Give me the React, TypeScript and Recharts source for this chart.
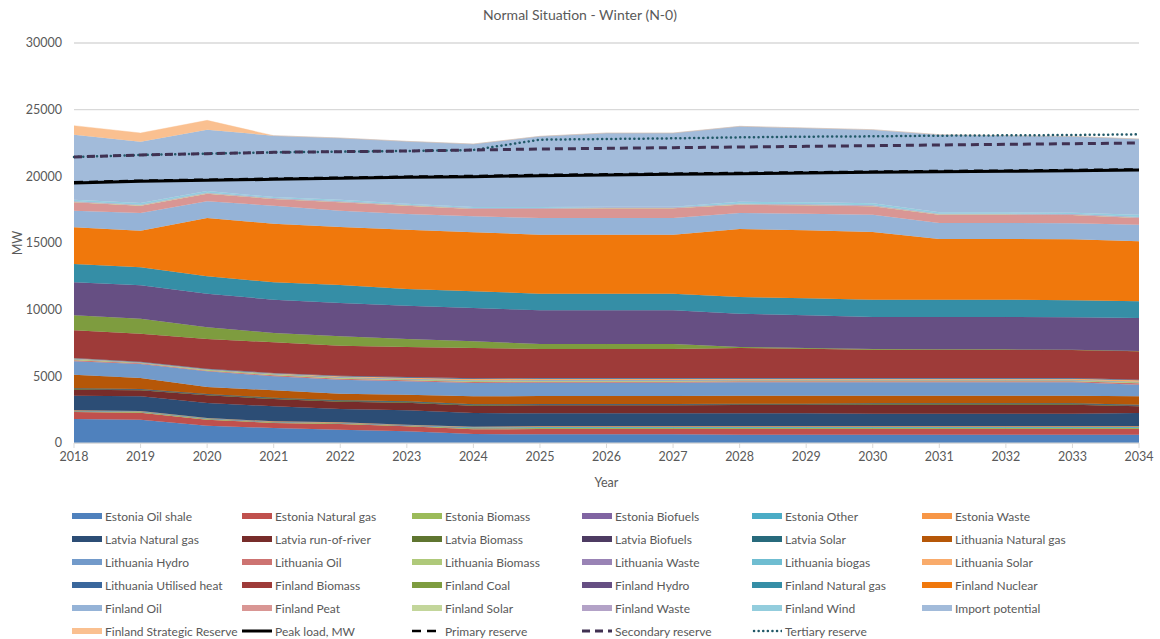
import React from 'react';
import { ComposedChart, Area, Line, XAxis, YAxis, CartesianGrid } from 'recharts';

const years = [2018, 2019, 2020, 2021, 2022, 2023, 2024, 2025, 2026, 2027, 2028, 2029, 2030, 2031, 2032, 2033, 2034];
const yTicks = [0, 5000, 10000, 15000, 20000, 25000, 30000];

// Estonia
const estoniaOilShale = [1800, 1750, 1300, 1125, 1000, 875, 675, 650, 650, 650, 625, 625, 625, 625, 625, 625, 625];
const estoniaNaturalGas = [525, 525, 450, 375, 425, 375, 350, 400, 400, 400, 425, 425, 425, 425, 425, 425, 425];
const estoniaBiomass = [50, 50, 50, 50, 50, 50, 75, 75, 75, 75, 75, 75, 75, 75, 75, 75, 75];
const estoniaBiofuels = [25, 25, 25, 25, 25, 25, 25, 25, 25, 25, 25, 25, 25, 25, 25, 25, 25];
const estoniaOther = [25, 25, 25, 25, 25, 25, 50, 50, 50, 50, 50, 50, 50, 50, 50, 50, 50];
const estoniaWaste = [25, 25, 25, 25, 25, 25, 50, 50, 50, 50, 50, 50, 50, 50, 50, 50, 50];

// Latvia
const latviaNaturalGas = [1100, 1100, 1125, 1125, 1000, 1075, 1025, 975, 975, 975, 975, 975, 950, 950, 950, 950, 1000];
const latviaRunOfRiver = [450, 450, 575, 550, 550, 575, 550, 600, 600, 600, 625, 625, 675, 675, 675, 675, 500];
const latviaBiomass = [50, 50, 50, 50, 50, 50, 50, 50, 50, 50, 50, 50, 50, 50, 50, 50, 50];
const latviaBiofuels = [25, 25, 25, 25, 25, 25, 25, 25, 25, 25, 25, 25, 25, 25, 25, 25, 25];
const latviaSolar = [25, 25, 25, 25, 25, 25, 25, 25, 25, 25, 25, 25, 25, 25, 25, 25, 50];

// Lithuania
const lithuaniaNaturalGas = [1025, 825, 525, 550, 500, 500, 600, 600, 600, 600, 600, 600, 575, 575, 575, 575, 625];
const lithuaniaHydro = [1000, 1050, 1175, 1050, 1050, 1000, 1000, 1000, 1000, 1000, 1000, 1000, 1000, 1000, 1000, 1000, 875];
const lithuaniaOil = [75, 50, 50, 75, 75, 75, 75, 75, 75, 75, 75, 75, 75, 75, 75, 75, 100];
const lithuaniaBiomass = [75, 50, 75, 75, 75, 75, 75, 75, 75, 75, 75, 75, 75, 75, 75, 75, 75];
const lithuaniaWaste = [25, 25, 25, 25, 25, 25, 25, 25, 25, 25, 25, 25, 25, 25, 25, 25, 25];
const lithuaniaBiogas = [25, 25, 25, 25, 25, 25, 25, 25, 25, 25, 25, 25, 25, 25, 25, 25, 25];
const lithuaniaSolar = [25, 0, 0, 25, 50, 75, 100, 100, 100, 100, 75, 75, 75, 75, 75, 75, 100];
const lithuaniaUtilisedHeat = [25, 25, 25, 25, 50, 50, 50, 50, 50, 50, 50, 50, 50, 50, 50, 50, 50];

// Finland
const finlandBiomass = [2075, 2100, 2225, 2300, 2250, 2250, 2275, 2175, 2175, 2175, 2250, 2200, 2125, 2125, 2125, 2100, 2125];
const finlandCoal = [1125, 1125, 875, 700, 700, 600, 500, 375, 375, 375, 75, 50, 50, 25, 25, 25, 25];
const finlandHydro = [2475, 2500, 2525, 2500, 2500, 2500, 2500, 2525, 2525, 2525, 2500, 2450, 2400, 2425, 2425, 2425, 2475];
const finlandNaturalGas = [1375, 1350, 1300, 1300, 1350, 1250, 1250, 1250, 1250, 1250, 1250, 1275, 1300, 1300, 1300, 1275, 1250];
const finlandNuclear = [2750, 2750, 4375, 4400, 4350, 4450, 4425, 4425, 4425, 4425, 5100, 5100, 5075, 4550, 4550, 4575, 4500];
const finlandOil = [1250, 1325, 1250, 1350, 1225, 1175, 1200, 1250, 1250, 1250, 1200, 1250, 1300, 1200, 1200, 1200, 1250];
const finlandPeat = [625, 550, 575, 500, 625, 625, 550, 675, 725, 725, 625, 625, 625, 625, 625, 625, 500];
const finlandSolar = [25, 25, 25, 25, 25, 25, 25, 25, 25, 25, 25, 25, 25, 25, 25, 25, 25];
const finlandWaste = [50, 50, 50, 50, 50, 50, 50, 50, 50, 50, 50, 50, 50, 50, 50, 50, 50];
const finlandWind = [125, 125, 125, 75, 125, 75, 75, 75, 50, 50, 150, 150, 150, 100, 100, 100, 175];
const importPotential = [4875, 4600, 4600, 4600, 4625, 4675, 4725, 5300, 5525, 5525, 5650, 5575, 5525, 5825, 5750, 5725, 5675];
const finlandStrategicReserve = [675, 650, 700, 0, 0, 0, 0, 0, 0, 0, 0, 0, 0, 0, 0, 0, 0];

// Load and reserve levels
const peakLoad = [19500, 19625, 19700, 19775, 19850, 19925, 19975, 20050, 20100, 20150, 20200, 20250, 20300, 20350, 20375, 20425, 20475];
const primaryReserve = [19550, 19675, 19750, 19825, 19900, 19975, 20025, 20100, 20150, 20200, 20250, 20300, 20350, 20400, 20425, 20475, 20525];
const secondaryReserve = [21450, 21600, 21700, 21800, 21850, 21900, 21975, 22050, 22100, 22150, 22200, 22250, 22300, 22350, 22400, 22450, 22500];
const tertiaryReserve = [21450, 21600, 21700, 21800, 21850, 21900, 21975, 22750, 22800, 22850, 22925, 22975, 23000, 23050, 23075, 23100, 23150];

type AreaSeries = { key: string; name: string; color: string; values: number[] };
type LineSeries = AreaSeries & { width: number; dash?: string; cap?: 'butt' | 'round' };

const areas: AreaSeries[] = [
  { key: 'eeOil', name: 'Estonia Oil shale', color: '#4F81BD', values: estoniaOilShale },
  { key: 'eeGas', name: 'Estonia Natural gas', color: '#C0504D', values: estoniaNaturalGas },
  { key: 'eeBiomass', name: 'Estonia Biomass', color: '#9BBB59', values: estoniaBiomass },
  { key: 'eeBiofuels', name: 'Estonia Biofuels', color: '#8064A2', values: estoniaBiofuels },
  { key: 'eeOther', name: 'Estonia Other', color: '#4BACC6', values: estoniaOther },
  { key: 'eeWaste', name: 'Estonia Waste', color: '#F79646', values: estoniaWaste },
  { key: 'lvGas', name: 'Latvia Natural gas', color: '#2C4D75', values: latviaNaturalGas },
  { key: 'lvRiver', name: 'Latvia run-of-river', color: '#772C2A', values: latviaRunOfRiver },
  { key: 'lvBiomass', name: 'Latvia Biomass', color: '#5F7530', values: latviaBiomass },
  { key: 'lvBiofuels', name: 'Latvia Biofuels', color: '#4D3B62', values: latviaBiofuels },
  { key: 'lvSolar', name: 'Latvia Solar', color: '#276A7C', values: latviaSolar },
  { key: 'ltGas', name: 'Lithuania Natural gas', color: '#B65708', values: lithuaniaNaturalGas },
  { key: 'ltHydro', name: 'Lithuania Hydro', color: '#729ACA', values: lithuaniaHydro },
  { key: 'ltOil', name: 'Lithuania Oil', color: '#CD7371', values: lithuaniaOil },
  { key: 'ltBiomass', name: 'Lithuania Biomass', color: '#AFC97A', values: lithuaniaBiomass },
  { key: 'ltWaste', name: 'Lithuania Waste', color: '#9983B5', values: lithuaniaWaste },
  { key: 'ltBiogas', name: 'Lithuania biogas', color: '#6FBDD1', values: lithuaniaBiogas },
  { key: 'ltSolar', name: 'Lithuania Solar', color: '#F9AB6B', values: lithuaniaSolar },
  { key: 'ltHeat', name: 'Lithuania Utilised heat', color: '#3A679C', values: lithuaniaUtilisedHeat },
  { key: 'fiBiomass', name: 'Finland Biomass', color: '#9E3B39', values: finlandBiomass },
  { key: 'fiCoal', name: 'Finland Coal', color: '#7E9C3F', values: finlandCoal },
  { key: 'fiHydro', name: 'Finland Hydro', color: '#664F83', values: finlandHydro },
  { key: 'fiGas', name: 'Finland Natural gas', color: '#358EA6', values: finlandNaturalGas },
  { key: 'fiNuclear', name: 'Finland Nuclear', color: '#F0780C', values: finlandNuclear },
  { key: 'fiOil', name: 'Finland Oil', color: '#95B3D7', values: finlandOil },
  { key: 'fiPeat', name: 'Finland Peat', color: '#D99694', values: finlandPeat },
  { key: 'fiSolar', name: 'Finland Solar', color: '#C3D69B', values: finlandSolar },
  { key: 'fiWaste', name: 'Finland Waste', color: '#B3A2C7', values: finlandWaste },
  { key: 'fiWind', name: 'Finland Wind', color: '#93CDDD', values: finlandWind },
  { key: 'import', name: 'Import potential', color: '#A2BBDA', values: importPotential },
  { key: 'fiReserve', name: 'Finland Strategic Reserve', color: '#FAC090', values: finlandStrategicReserve },
];

const lines: LineSeries[] = [
  { key: 'peak', name: 'Peak load, MW', color: '#000000', values: peakLoad, width: 3 },
  { key: 'primary', name: 'Primary reserve', color: '#000000', values: primaryReserve, width: 2.5, dash: '9 6' },
  { key: 'secondary', name: 'Secondary reserve', color: '#403152', values: secondaryReserve, width: 3, dash: '8 5' },
  { key: 'tertiary', name: 'Tertiary reserve', color: '#215968', values: tertiaryReserve, width: 2.5, dash: '0.1 4.5', cap: 'round' },
];

const data = years.map((year, i) => {
  const row: Record<string, number> = { year };
  areas.forEach((s) => (row[s.key] = s.values[i]));
  lines.forEach((s) => (row[s.key] = s.values[i]));
  return row;
});

// tertiary first so the secondary dashes sit on top where they coincide
const lineDrawOrder = ['tertiary', 'peak', 'primary', 'secondary'];

const FONT = 'Lato, "Open Sans", sans-serif';
const TEXT = '#595959';

function ChartLegend() {
  const entries = [...areas.map((a) => ({ ...a, kind: 'area' as const })), ...lines.map((l) => ({ ...l, kind: 'line' as const }))];
  return (
    <div style={{ position: 'absolute', left: 72, top: 508, width: 1080 }}>
      {entries.map((e, i) => {
        const col = i % 6;
        const row = Math.floor(i / 6);
        const l = e as LineSeries;
        return (
          <div
            key={e.key}
            style={{
              position: 'absolute',
              left: col * 170,
              top: row * 23,
              display: 'flex',
              alignItems: 'center',
              height: 16,
              whiteSpace: 'nowrap',
              fontFamily: FONT,
              fontSize: 12,
              color: TEXT,
            }}
          >
            <svg width={30} height={10} style={{ marginRight: 3 }}>
              {e.kind === 'area' ? (
                <rect x={0} y={2} width={30} height={6} fill={e.color} />
              ) : (
                <line
                  x1={l.cap === 'round' ? 2 : 0}
                  y1={5}
                  x2={30}
                  y2={5}
                  stroke={e.color}
                  strokeWidth={l.width}
                  strokeDasharray={l.dash}
                  strokeLinecap={l.cap ?? 'butt'}
                />
              )}
            </svg>
            <span>{e.name}</span>
          </div>
        );
      })}
    </div>
  );
}

export default function App() {
  return (
    <div style={{ position: 'absolute', left: 0, top: 0, width: 1160, height: 639, background: '#fff' }}>
      <div
        style={{
          position: 'absolute',
          top: 6,
          left: 0,
          width: 1160,
          textAlign: 'center',
          fontFamily: FONT,
          fontSize: 14,
          color: TEXT,
        }}
      >
        Normal Situation - Winter (N-0)
      </div>
      <ComposedChart width={1160} height={639} data={data} margin={{ top: 43, right: 21, bottom: 136, left: 0 }}>
        <CartesianGrid vertical={false} stroke="#D9D9D9" strokeWidth={1.3} />
        <XAxis
          dataKey="year"
          type="number"
          domain={[2018, 2034]}
          ticks={years}
          allowDecimals={false}
          height={60}
          stroke="#D9D9D9"
          tickSize={5}
          tickMargin={4}
          tick={{ fill: TEXT, fontSize: 12.5, fontFamily: FONT }}
          label={({ viewBox }: any) => (
            <text x={viewBox.x + viewBox.width / 2} y={viewBox.y + 44} textAnchor="middle" fill={TEXT} fontSize={12.5} fontFamily={FONT}>
              Year
            </text>
          )}
        />
        <YAxis
          type="number"
          domain={[0, 30000]}
          ticks={yTicks}
          width={74}
          axisLine={false}
          tickLine={false}
          tickMargin={6}
          tick={{ fill: TEXT, fontSize: 12.5, fontFamily: FONT }}
          label={({ viewBox }: any) => {
            const cx = 17;
            const cy = viewBox.y + viewBox.height / 2;
            return (
              <text x={cx} y={cy} transform={`rotate(-90 ${cx} ${cy})`} textAnchor="middle" dominantBaseline="central" fill={TEXT} fontSize={12.5} fontFamily={FONT}>
                MW
              </text>
            );
          }}
        />
        {areas.map((s) => (
          <Area
            key={s.key}
            dataKey={s.key}
            name={s.name}
            stackId="supply"
            type="linear"
            fill={s.color}
            fillOpacity={1}
            stroke={s.color}
            strokeWidth={0.4}
            isAnimationActive={false}
            dot={false}
            activeDot={false}
          />
        ))}
        {lineDrawOrder.map((k) => {
          const s = lines.find((l) => l.key === k)!;
          return (
            <Line
              key={s.key}
              dataKey={s.key}
              name={s.name}
              type="linear"
              stroke={s.color}
              strokeWidth={s.width}
              strokeDasharray={s.dash}
              strokeLinecap={s.cap ?? 'butt'}
              dot={false}
              activeDot={false}
              isAnimationActive={false}
            />
          );
        })}
      </ComposedChart>
      <ChartLegend />
    </div>
  );
}
